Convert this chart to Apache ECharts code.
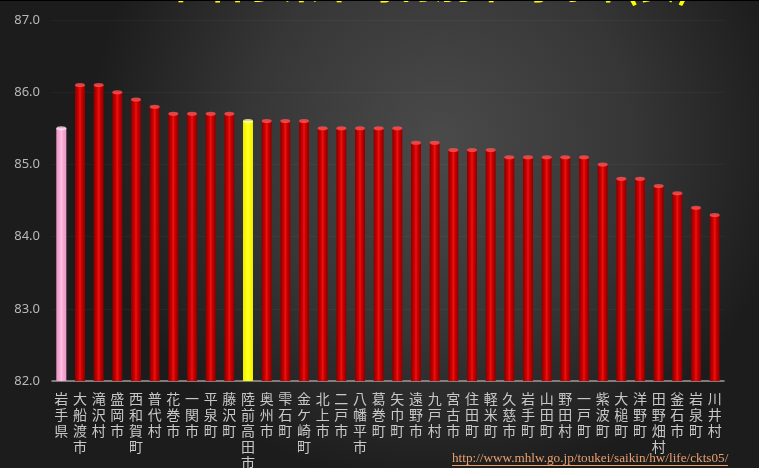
<!DOCTYPE html>
<html>
<head>
<meta charset="utf-8">
<script src="https://cdn.jsdelivr.net/npm/echarts@6/dist/echarts.min.js"></script>
<style>
  html, body { margin: 0; padding: 0; background: #222; }
  #chart { width: 759px; height: 468px; }
</style>
</head>
<body>
<div id="chart"></div>
<script>
// 岩手県 市町村別 平均寿命（女）
const categories = [
  '岩手県', '大船渡市', '滝沢村', '盛岡市', '西和賀町', '普代村', '花巻市', '一関市', '平泉町',
  '藤沢町', '陸前高田市', '奥州市', '雫石町', '金ケ崎町', '北上市', '二戸市', '八幡平市', '葛巻町',
  '矢巾町', '遠野市', '九戸村', '宮古市', '住田町', '軽米町', '久慈市', '岩手町', '山田町',
  '野田村', '一戸町', '紫波町', '大槌町', '洋野町', '田野畑村', '釜石市', '岩泉町', '川井村'
];
const values = [
  85.5, 86.1, 86.1, 86.0, 85.9, 85.8, 85.7, 85.7, 85.7,
  85.7, 85.6, 85.6, 85.6, 85.6, 85.5, 85.5, 85.5, 85.5,
  85.5, 85.3, 85.3, 85.2, 85.2, 85.2, 85.1, 85.1, 85.1,
  85.1, 85.1, 85.0, 84.8, 84.8, 84.7, 84.6, 84.4, 84.3
];
const yTicks = [82.0, 83.0, 84.0, 85.0, 86.0, 87.0];
const prefName = '岩手県';
const homeName = '陸前高田市';
const titleText = '2010年 岩手県市町村別平均寿命(女)';
const sourceText = 'http://www.mhlw.go.jp/toukei/saikin/hw/life/ckts05/';

const hGrad = (edge, mid, hi) => new echarts.graphic.LinearGradient(0, 0, 1, 0, [
  { offset: 0, color: edge },
  { offset: 0.35, color: mid },
  { offset: 0.5, color: hi },
  { offset: 0.65, color: mid },
  { offset: 1, color: edge }
]);

const redBar = hGrad('#8a0000', '#d00000', '#ea1414');
const pinkBar = hGrad('#ec9ac8', '#f7a8d4', '#ffc4e2');
const yellowBar = hGrad('#ecec00', '#ffff00', '#ffff50');

function barStyle(name) {
  if (name === prefName) return { color: pinkBar };
  if (name === homeName) return { color: yellowBar };
  return { color: redBar };
}
function capColor(name) {
  if (name === prefName) return '#ffe0f0';
  if (name === homeName) return '#ffffa8';
  return '#ff5050';
}

const barData = values.map((v, i) => ({ value: v, itemStyle: barStyle(categories[i]) }));
const capData = values.map((v, i) => ({ value: v, itemStyle: { color: capColor(categories[i]) } }));

const chart = echarts.init(document.getElementById('chart'));
chart.setOption({
  animation: false,
  backgroundColor: new echarts.graphic.RadialGradient(0.58, 0.3, 0.75, [
    { offset: 0, color: '#4a4a4a' },
    { offset: 0.55, color: '#363636' },
    { offset: 1, color: '#1c1c1c' }
  ]),
  grid: { left: 52, right: 35, top: 20, bottom: 87, outerBoundsMode: 'none', containLabel: false },
  xAxis: {
    type: 'category',
    data: categories,
    axisLine: { show: true, lineStyle: { color: '#9a9a9a', width: 1.5 } },
    axisTick: { show: false },
    axisLabel: {
      interval: 0,
      margin: 10,
      color: '#c8c8c8',
      fontFamily: 'Noto Sans CJK JP',
      fontSize: 14,
      lineHeight: 16,
      verticalAlign: 'top',
      formatter: (s) => s.split('').join('\n')
    }
  },
  yAxis: {
    type: 'value',
    min: 82,
    max: 87,
    interval: 1,
    axisLine: { show: false },
    axisTick: { show: false },
    splitLine: { show: true, lineStyle: { color: 'rgba(255,255,255,0.035)' } },
    axisLabel: {
      color: '#b8b8b8',
      fontFamily: 'Noto Sans',
      fontSize: 13,
      margin: 12,
      formatter: (v) => {
        const t = yTicks.find((x) => Math.abs(x - v) < 1e-6);
        return (t !== undefined ? t : v).toFixed(1);
      }
    }
  },
  series: [
    {
      type: 'bar',
      data: barData,
      barWidth: 10,
      z: 2
    },
    {
      type: 'scatter',
      data: capData,
      symbol: 'circle',
      symbolSize: [10, 4],
      z: 3,
      silent: true
    }
  ],
  graphic: [
    {
      type: 'text',
      left: 70,
      top: -35,
      style: {
        text: titleText,
        fill: '#ffff00',
        font: 'bold 38px "Noto Sans CJK JP"'
      }
    },
    {
      type: 'rect',
      left: 0,
      top: 0,
      shape: { width: 759, height: 1 },
      style: { fill: '#000' }
    },
    {
      type: 'text',
      left: 452,
      top: 452,
      style: {
        text: sourceText,
        fill: '#e8a070',
        font: '13.2px "Liberation Serif"'
      }
    },
    {
      type: 'rect',
      left: 452,
      top: 465,
      shape: { width: 276, height: 1 },
      style: { fill: '#e8a070' }
    }
  ]
});
</script>
</body>
</html>
